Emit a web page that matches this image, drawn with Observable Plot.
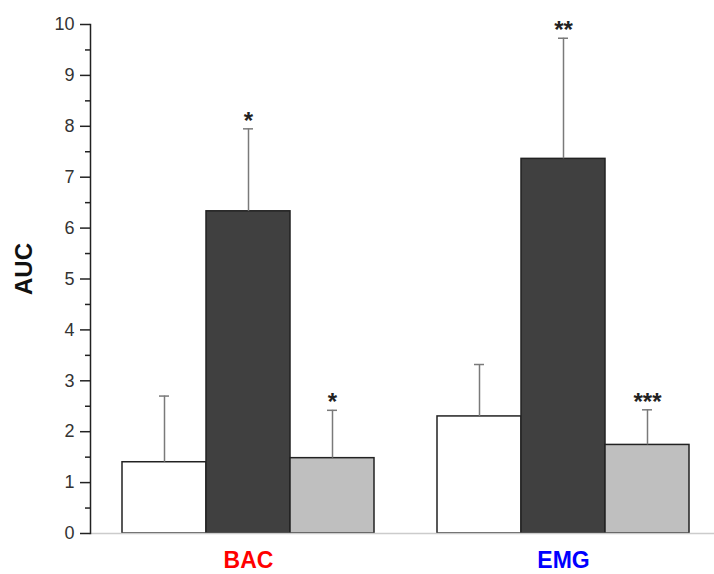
<!DOCTYPE html>
<html>
<head>
<meta charset="utf-8">
<script src="https://cdn.jsdelivr.net/npm/d3@7"></script>
<script src="https://cdn.jsdelivr.net/npm/@observablehq/plot@0.6"></script>
<style>
  html, body { margin: 0; padding: 0; background: #ffffff; }
</style>
</head>
<body>
<div id="chart"></div>
<script>
// Measurement groups and the three conditions within each
const categories = ["BAC", "EMG"];
const conditions = ["control", "exposed", "treated"];

// Mean AUC and standard deviation per condition
const bacMeans = [1.40, 6.33, 1.48];
const bacErrors = [1.30, 1.62, 0.94];
const emgMeans = [2.30, 7.36, 1.74];
const emgErrors = [1.02, 2.37, 0.69];

// Significance markers
const bacMarks = ["", "*", "*"];
const emgMarks = ["", "**", "***"];

// Tick values for the AUC axis
const yTicks = [0, 1, 2, 3, 4, 5, 6, 7, 8, 9, 10];
const yMinorTicks = [0.5, 1.5, 2.5, 3.5, 4.5, 5.5, 6.5, 7.5, 8.5, 9.5];

const conditionFills = ["#ffffff", "#404040", "#bfbfbf"];
const categoryColors = ["#ff0000", "#0000ff"];

const groups = [
  {group: "BAC", means: bacMeans, errors: bacErrors, marks: bacMarks},
  {group: "EMG", means: emgMeans, errors: emgErrors, marks: emgMarks}
];
const rows = groups.flatMap(g => conditions.map((c, i) => ({
  group: g.group,
  condition: c,
  mean: g.means[i],
  top: g.means[i] + g.errors[i],
  sig: g.marks[i],
  fill: conditionFills[i]
})));

const ink = "#222222";
const errInk = "#7a7a7a";

const chart = Plot.plot({
  width: 714,
  height: 574,
  marginLeft: 90,
  marginRight: 0,
  marginTop: 24,
  marginBottom: 41,
  style: {fontFamily: "'Liberation Sans', Arial, sans-serif", background: "#ffffff", color: ink},
  fx: {domain: categories, paddingInner: 0.0253, paddingOuter: 0, align: 0, axis: null},
  x: {domain: conditions, paddingInner: 0, paddingOuter: 0.3225, align: 0.587, axis: null},
  y: {domain: [0, 10]},
  color: {type: "identity"},
  marks: [
    Plot.barY(rows, {fx: "group", x: "condition", y: "mean", fill: "fill", stroke: ink, strokeWidth: 1.5}),
    Plot.ruleX(rows, {fx: "group", x: "condition", y1: "mean", y2: "top", stroke: errInk, strokeWidth: 1.5}),
    Plot.tickY(rows, {fx: "group", x: "condition", y: "top", stroke: errInk, strokeWidth: 1.5, insetLeft: 37, insetRight: 37}),
    Plot.text(rows.filter(d => d.sig), {
      fx: "group", x: "condition", y: "top", text: "sig",
      fontSize: 24, fontWeight: "bold", fill: ink, lineAnchor: "middle", dy: -8
    }),
    Plot.ruleY([0], {stroke: "#cccccc", strokeWidth: 1.5, insetRight: -8}),
    Plot.frame({anchor: "left", facetAnchor: "left", stroke: ink, strokeWidth: 1.5}),
    Plot.axisY(yMinorTicks, {tickSize: 5, text: null, label: null, stroke: ink, strokeWidth: 1.5}),
    Plot.axisY(yTicks, {
      tickSize: 10, tickPadding: 6, fontSize: 18, label: null,
      tickFormat: d => String(d), stroke: ink, strokeWidth: 1.5, fill: "#333"
    }),
    Plot.text(["AUC"], {
      fx: () => "BAC", frameAnchor: "left", text: d => d, rotate: -90,
      dx: -66, dy: 16, fontSize: 24, fontWeight: "bold", fill: "#111"
    }),
    Plot.text(categories, {
      fx: d => d, x: () => conditions[1], frameAnchor: "bottom", text: d => d,
      fill: (d, i) => categoryColors[i], fontSize: 23, fontWeight: "bold",
      lineAnchor: "top", dy: 18
    })
  ]
});

document.getElementById("chart").appendChild(chart);
</script>
</body>
</html>
